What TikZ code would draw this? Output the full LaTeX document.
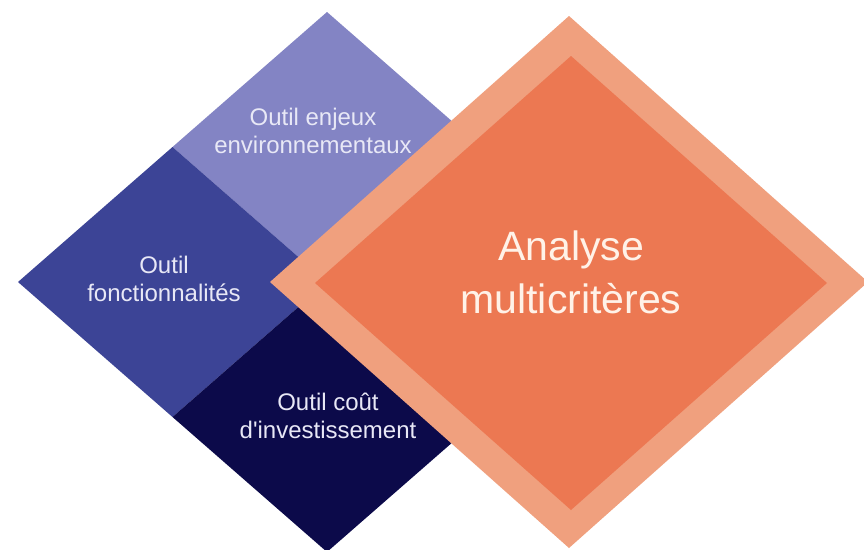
\documentclass[tikz,border=0pt]{standalone}
\usepackage{fontspec}
\setmainfont{Liberation Sans}
\definecolor{lilac}{RGB}{131,132,196}
\definecolor{royal}{RGB}{60,68,150}
\definecolor{toolnavy}{RGB}{12,10,74}
\definecolor{peach}{RGB}{240,160,126}
\definecolor{coral}{RGB}{236,120,82}
\definecolor{paletext}{RGB}{232,232,246}
\definecolor{creamtext}{RGB}{255,242,232}
\begin{document}
\begin{tikzpicture}[x=1pt,y=-1pt,
  % the base anchor of a multi-line node sits on its last line
  tooltext/.style={align=center,text=paletext,inner sep=0pt,anchor=base,
    font=\fontsize{24}{28}\selectfont},
  maintext/.style={align=center,text=creamtext,inner sep=0pt,anchor=base,
    font=\fontsize{41}{53}\selectfont}]
\useasboundingbox (0,0) rectangle (864,549);
\clip (0,0) rectangle (864,549);
\fill[white] (0,0) rectangle (864,549);

% tool diamond and its quadrants
\coordinate (pT) at (327,12);
\coordinate (pL) at (18,282);
\coordinate (pB) at (327,552);
\coordinate (pR) at (636,282);
\coordinate (pC) at (327,282);
\coordinate (pTL) at (172.5,147);
\coordinate (pBL) at (172.5,417);
\coordinate (pTR) at (481.5,147);
\coordinate (pBR) at (481.5,417);
\fill[lilac] (pT) -- (pTR) -- (pC) -- (pTL) -- cycle;
\fill[royal] (pTL) -- (pC) -- (pBL) -- (pL) -- cycle;
\fill[toolnavy] (pC) -- (pBR) -- (pB) -- (pBL) -- cycle;

% analysis diamond with its frame
\coordinate (oT) at (569,16);
\coordinate (oL) at (270,282);
\coordinate (oB) at (569,548);
\coordinate (oR) at (868,282);
\coordinate (iT) at (571,56);
\coordinate (iL) at (315,283);
\coordinate (iB) at (571,510);
\coordinate (iR) at (827,283);
\fill[peach] (oT) -- (oR) -- (oB) -- (oL) -- cycle;
\fill[coral] (iT) -- (iR) -- (iB) -- (iL) -- cycle;

% labels
\node[tooltext] (env) at (313,153) {Outil enjeux\\environnementaux};
\node[tooltext] (fct) at (164,301) {Outil\\fonctionnalités};
\node[tooltext] (cost) at (328,438) {Outil coût\\d\textquotesingle investissement};
\node[maintext] (amc) at (571,313) {Analyse\\multicritères};
\end{tikzpicture}
\end{document}
